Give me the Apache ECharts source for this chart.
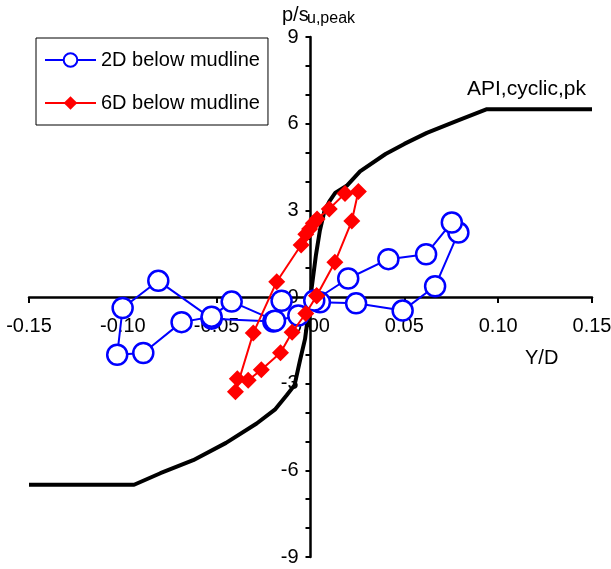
<!DOCTYPE html>
<html><head><meta charset="utf-8">
<script src="https://cdn.jsdelivr.net/npm/echarts@6/dist/echarts.min.js"></script>
<style>html,body{margin:0;padding:0;background:#fff}#c{width:611px;height:569px}</style>
</head><body><div id="c"></div>
<script>
// ---- data ----
const xMin = -0.15, xMax = 0.15, xTickStep = 0.05;
const yMin = -9, yMax = 9, yTickStep = 1;
const yTickLabels = [-9, -6, -3, 0, 3, 6, 9];

const apiX = [-0.15, -0.094, -0.08, -0.0625, -0.045, -0.0287, -0.019, -0.0127, -0.0085, -0.0056, -0.0029, 0, 0.0029, 0.005, 0.0075, 0.0100, 0.0131, 0.0193, 0.0264, 0.04, 0.05, 0.062, 0.078, 0.094, 0.15];
const apiY = [-6.5, -6.5, -6.1, -5.65, -5.05, -4.38, -3.9, -3.4, -3.05, -2.2, -1.45, 0, 1.45, 2.3, 3.0, 3.3, 3.6, 3.85, 4.35, 4.95, 5.3, 5.68, 6.1, 6.5, 6.5];

const d2X = [0.005, 0.0243, 0.0491, 0.0664, 0.0788, 0.0753, 0.0616, 0.0415, 0.0201, 0.002, -0.0065, -0.0198, -0.0527, -0.0811, -0.1001, -0.103, -0.0891, -0.0687, -0.0527, -0.042, -0.0189, -0.0154];
const d2Y = [-0.18, -0.22, -0.47, 0.37, 2.23, 2.58, 1.48, 1.31, 0.64, -0.12, -0.64, -0.85, -0.75, 0.56, -0.38, -2.0, -1.94, -0.87, -0.68, -0.16, -0.82, -0.13];

const d6X = [0.0033, -0.0025, -0.0098, -0.016, -0.0262, -0.0332, -0.039, -0.0400, -0.0305, -0.018, -0.005, -0.0025, -0.0005, 0.0015, 0.0035, 0.0100, 0.0184, 0.0255, 0.022, 0.013, 0.0033];
const d6Y = [0.04, -0.57, -1.22, -1.93, -2.52, -2.88, -2.83, -3.28, -1.25, 0.53, 1.8, 2.17, 2.35, 2.55, 2.7, 3.05, 3.58, 3.65, 2.63, 1.2, 0.04];

const names = ['2D below mudline', '6D below mudline'];
const apiLabel = 'API,cyclic,pk';
const yNameMain = 'p/s', yNameSub = 'u,peak', xName = 'Y/D';

const FONT = "'Liberation Sans', Arial, sans-serif";
const zip = (xs, ys) => xs.map((x, i) => [x, ys[i]]);

// grid box
const W = 611, H = 569;
const G = {left: 29, right: 19, top: 37, bottom: 12};
const gw = W - G.left - G.right, gh = H - G.top - G.bottom;
// move each axis (line, ticks, labels) so it crosses the other at zero
const xAxisOffset = -gh * (0 - yMin) / (yMax - yMin);
const yAxisOffset = -gw * (0 - xMin) / (xMax - xMin);

const chart = echarts.init(document.getElementById('c'), null, {renderer: 'canvas'});
chart.setOption({
  animation: false,
  backgroundColor: '#fff',
  textStyle: {fontFamily: FONT},
  grid: Object.assign({outerBoundsMode: 'none', containLabel: false}, G),
  xAxis: {
    type: 'value', min: xMin, max: xMax, interval: xTickStep,
    position: 'bottom', offset: xAxisOffset,
    axisLine: {onZero: false, lineStyle: {color: '#000', width: 2.5}},
    axisTick: {show: true, inside: false, length: 6, lineStyle: {color: '#000', width: 2}},
    axisLabel: {color: '#000', fontSize: 20, fontFamily: FONT, margin: 19,
      formatter: v => (Math.abs(v) < 1e-9 ? 0 : v).toFixed(2)},
    splitLine: {show: false}
  },
  yAxis: {
    type: 'value', min: yMin, max: yMax, interval: yTickStep,
    position: 'left', offset: yAxisOffset,
    axisLine: {onZero: false, lineStyle: {color: '#000', width: 2.5}},
    axisTick: {show: true, inside: false, length: 5, lineStyle: {color: '#000', width: 2}},
    axisLabel: {color: '#000', fontSize: 20, fontFamily: FONT, margin: 12,
      formatter: v => yTickLabels.includes(Math.round(v)) && Math.abs(v - Math.round(v)) < 1e-9 ? String(Math.round(v)) : ''},
    splitLine: {show: false}
  },
  legend: {
    orient: 'vertical', left: 36, top: 38,
    padding: [12, 8, 12, 8], itemGap: 23,
    itemWidth: 51, itemHeight: 17,
    borderColor: '#000', borderWidth: 1, backgroundColor: '#fff',
    textStyle: {fontSize: 20, color: '#000', fontFamily: FONT},
    data: names
  },
  series: [
    {
      name: apiLabel, type: 'line', data: zip(apiX, apiY), showSymbol: false, symbol: 'none',
      lineStyle: {color: '#000', width: 4}, z: 2
    },
    {
      name: names[0], type: 'line', data: zip(d2X, d2Y),
      symbol: 'circle', symbolSize: 20,
      lineStyle: {color: '#0000ff', width: 2},
      itemStyle: {color: '#fff', borderColor: '#0000ff', borderWidth: 2.5}, z: 3
    },
    {
      name: names[1], type: 'line', data: zip(d6X, d6Y),
      symbol: 'diamond', symbolSize: 17,
      lineStyle: {color: '#ff0000', width: 2},
      itemStyle: {color: '#ff0000', borderColor: '#ff0000', borderWidth: 0}, z: 4
    }
  ],
  graphic: [
    {type: 'text', left: 467, top: 79, style: {text: apiLabel, font: `21px ${FONT}`, fill: '#000'}},
    {type: 'text', left: 525, top: 348, style: {text: xName, font: `20px ${FONT}`, fill: '#000'}},
    {type: 'text', left: 282, top: 5, style: {text: yNameMain, font: `20px ${FONT}`, fill: '#000'}},
    {type: 'text', left: 307, top: 11, style: {text: yNameSub, font: `16px ${FONT}`, fill: '#000'}}
  ]
});
</script></body></html>
